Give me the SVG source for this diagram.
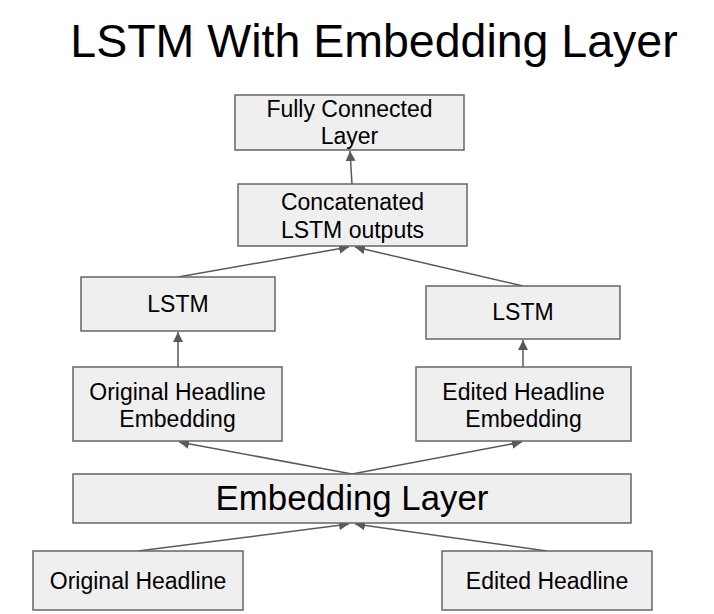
<svg xmlns="http://www.w3.org/2000/svg" width="714" height="614" viewBox="0 0 714 614">
<defs>
<marker id="ah" viewBox="0 0 10 10" refX="10" refY="5" markerWidth="10" markerHeight="10" markerUnits="userSpaceOnUse" orient="auto">
<path d="M0,0 L10,5 L0,10 z" fill="#595959"/>
</marker>
<style>
.box{fill:#efefef;stroke:#666;stroke-width:1.5}
.t{font-family:"Liberation Sans",Arial,sans-serif;font-size:23px;fill:#000;text-anchor:middle}
.big{font-size:34.8px}
.title{font-family:"Liberation Sans",Arial,sans-serif;font-size:46.5px;fill:#000;text-anchor:middle}
.c{stroke:#595959;stroke-width:1.5;fill:none;marker-end:url(#ah)}
</style>
</defs>
<rect width="714" height="614" fill="#fff"/>
<text class="title" x="374" y="57">LSTM With Embedding Layer</text>
<g id="connectors">
<line class="c" x1="352" y1="184" x2="350" y2="151"/>
<line class="c" x1="178" y1="277" x2="349" y2="247"/>
<line class="c" x1="523" y1="286" x2="355" y2="247"/>
<line class="c" x1="178" y1="367" x2="178" y2="332"/>
<line class="c" x1="523" y1="367" x2="523" y2="340"/>
<line class="c" x1="352" y1="474" x2="179" y2="442"/>
<line class="c" x1="352" y1="474" x2="522" y2="442"/>
<line class="c" x1="138" y1="551" x2="349" y2="524"/>
<line class="c" x1="547" y1="551" x2="355" y2="524"/>
</g>
<g id="fc">
<rect class="box" x="235" y="95" width="229" height="55"/>
<text class="t" x="349.5" y="117">Fully Connected</text>
<text class="t" x="349.5" y="144">Layer</text>
</g>
<g id="concat">
<rect class="box" x="238" y="184" width="229" height="62"/>
<text class="t" x="352.5" y="210">Concatenated</text>
<text class="t" x="352.5" y="238">LSTM outputs</text>
</g>
<g id="lstm-left">
<rect class="box" x="81" y="277" width="194" height="54"/>
<text class="t" x="178" y="312">LSTM</text>
</g>
<g id="lstm-right">
<rect class="box" x="426" y="286" width="194" height="53"/>
<text class="t" x="523" y="320">LSTM</text>
</g>
<g id="orig-emb">
<rect class="box" x="73" y="367" width="209" height="74"/>
<text class="t" x="177.5" y="400">Original Headline</text>
<text class="t" x="177.5" y="427">Embedding</text>
</g>
<g id="edit-emb">
<rect class="box" x="416" y="367" width="215" height="74"/>
<text class="t" x="523.5" y="400">Edited Headline</text>
<text class="t" x="523.5" y="427">Embedding</text>
</g>
<g id="emb-layer">
<rect class="box" x="73" y="474" width="558" height="49"/>
<text class="t big" x="352" y="510">Embedding Layer</text>
</g>
<g id="orig">
<rect class="box" x="33" y="551" width="210" height="59"/>
<text class="t" x="138" y="589">Original Headline</text>
</g>
<g id="edited">
<rect class="box" x="442" y="551" width="210" height="59"/>
<text class="t" x="547" y="589">Edited Headline</text>
</g>
</svg>
